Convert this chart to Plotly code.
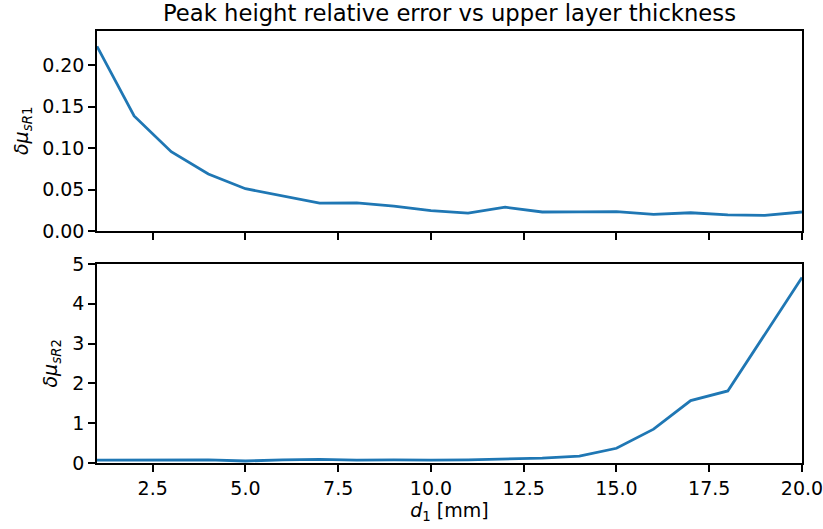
import plotly.graph_objects as go
from plotly.subplots import make_subplots

# Upper layer thickness d1 [mm]
d1 = list(range(1, 21))

# Relative peak height errors for the two layers
err_r1 = [0.2225, 0.1386, 0.0956, 0.0687, 0.0510, 0.0425, 0.0337, 0.0338, 0.0300,
          0.0245, 0.0215, 0.0287, 0.0229, 0.0231, 0.0233, 0.0200, 0.0220, 0.0195,
          0.0189, 0.0229]
err_r2 = [0.07, 0.07, 0.07, 0.08, 0.05, 0.08, 0.09, 0.07, 0.08, 0.07,
          0.08, 0.10, 0.12, 0.17, 0.37, 0.85, 1.57, 1.81, 3.22, 4.66]

x_ticks = [2.5, 5.0, 7.5, 10.0, 12.5, 15.0, 17.5, 20.0]
y1_ticks = [0.00, 0.05, 0.10, 0.15, 0.20]
y2_ticks = [0, 1, 2, 3, 4, 5]

W, H = 823, 529
line_color = "#1f77b4"
font_family = "DejaVu Sans"
tick_font = dict(size=19, color="black", family=font_family)
label_font = dict(size=19, color="black", family=font_family)

fig = make_subplots(rows=2, cols=1, shared_xaxes=False)

fig.add_trace(go.Scatter(x=d1, y=err_r1, mode="lines",
                         line=dict(color=line_color, width=2.8)), row=1, col=1)
fig.add_trace(go.Scatter(x=d1, y=err_r2, mode="lines",
                         line=dict(color=line_color, width=2.8)), row=2, col=1)

axis_common = dict(showgrid=False, zeroline=False, showline=True, linecolor="black",
                   linewidth=1.5, mirror=True, ticks="outside", ticklen=7, tickwidth=1.5,
                   tickcolor="black", tickfont=tick_font, automargin=False,
                   ticklabeloverflow="allow")

fig.update_xaxes(range=[1, 20], tickvals=x_ticks, showticklabels=False,
                 domain=[0, 1], **axis_common, row=1, col=1)
fig.update_xaxes(range=[1, 20], tickvals=x_ticks, ticktext=[f"{v:.1f}" for v in x_ticks],
                 domain=[0, 1],
                 title=dict(text="<i>d</i><sub>1</sub> [mm]", standoff=4, font=label_font),
                 **axis_common, row=2, col=1)

fig.update_yaxes(range=[0, 0.241], tickvals=y1_ticks, ticktext=[f"{v:.2f}" for v in y1_ticks],
                 domain=[0.537, 1.0], **axis_common, row=1, col=1)
fig.update_yaxes(range=[0, 5], tickvals=y2_ticks, ticktext=[str(v) for v in y2_ticks],
                 domain=[0.0, 0.4606], **axis_common, row=2, col=1)

# y-axis titles, each placed just left of its own tick labels
y_titles = [
    ("<i>δμ</i><sub><i>sR</i>1</sub>", 22, (0.537 + 1.0) / 2),
    ("<i>δμ</i><sub><i>sR</i>2</sub>", 52, 0.4606 / 2),
]
for text, px, yc in y_titles:
    fig.add_annotation(text=text, textangle=-90, font=label_font, showarrow=False,
                       xref="paper", yref="paper", x=(px - 97) / (W - 97 - 21), y=yc,
                       xanchor="center", yanchor="middle")

fig.update_layout(
    width=W, height=H,
    margin=dict(l=97, r=21, t=31, b=66),
    paper_bgcolor="white", plot_bgcolor="white",
    showlegend=False,
    font=dict(family=font_family, color="black"),
    title=dict(text="Peak height relative error vs upper layer thickness",
               x=(97 + 802) / 2 / W, xanchor="center", y=1 - 13 / H, yanchor="middle",
               font=dict(size=22.7, color="black", family=font_family)),
)

fig.write_html("out.html")
